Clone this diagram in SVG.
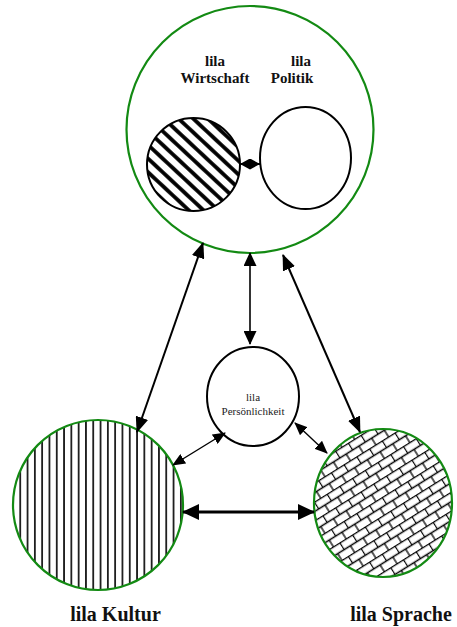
<svg xmlns="http://www.w3.org/2000/svg" width="457" height="627" viewBox="0 0 457 627">
  <style>
    .green { fill: #ffffff; stroke: #138a13; stroke-width: 2.2; }
    .black { fill: #ffffff; stroke: #000000; stroke-width: 2; }
    .lblB { font-family: "Liberation Serif", "Times New Roman", serif; font-weight: bold; fill: #111; text-anchor: middle; }
    .lblR { font-family: "Liberation Serif", "Times New Roman", serif; fill: #222; text-anchor: middle; font-size: 11px; }
    .conn { stroke: #000; fill: none; }
  </style>
  <defs>
    <pattern id="diag" patternUnits="userSpaceOnUse" width="10" height="20" patternTransform="rotate(-47)">
      <rect width="10" height="20" fill="#fff"/>
      <line x1="5" y1="0" x2="5" y2="20" stroke="#000" stroke-width="3.8"/>
    </pattern>
    <pattern id="vert" patternUnits="userSpaceOnUse" x="2" width="7.3" height="20">
      <rect width="7.3" height="20" fill="#fff"/>
      <line x1="3.65" y1="0" x2="3.65" y2="20" stroke="#000" stroke-width="1.6"/>
    </pattern>
    <pattern id="brick" patternUnits="userSpaceOnUse" width="15" height="16" patternTransform="rotate(-32)">
      <rect width="15" height="16" fill="#fff"/>
      <path d="M0,0.5 H15 M0,8.5 H15 M0.5,0.5 V8.5 M8,8.5 V16" stroke="#000" stroke-width="1.3" fill="none"/>
    </pattern>
    <marker id="ahBig" viewBox="0 0 16 13" refX="15" refY="6.5" markerWidth="16" markerHeight="13" markerUnits="userSpaceOnUse" orient="auto-start-reverse">
      <path d="M0,0 L16,6.5 L0,13 z" fill="#000"/>
    </marker>
    <marker id="ahMid" viewBox="0 0 14 13" refX="13" refY="6.5" markerWidth="14" markerHeight="13" markerUnits="userSpaceOnUse" orient="auto-start-reverse">
      <path d="M0,0 L14,6.5 L0,13 z" fill="#000"/>
    </marker>
    <marker id="ahSm" viewBox="0 0 13 11" refX="12" refY="5.5" markerWidth="13" markerHeight="11" markerUnits="userSpaceOnUse" orient="auto-start-reverse">
      <path d="M0,0 L13,5.5 L0,11 z" fill="#000"/>
    </marker>
    <marker id="ahHz" viewBox="0 0 17 16" refX="16" refY="8" markerWidth="17" markerHeight="16" markerUnits="userSpaceOnUse" orient="auto-start-reverse">
      <path d="M0,0 L17,8 L0,16 z" fill="#000"/>
    </marker>
    <marker id="ahTiny" viewBox="0 0 10 11" refX="10" refY="5.5" markerWidth="10" markerHeight="11" markerUnits="userSpaceOnUse" orient="auto-start-reverse">
      <path d="M0,0 L10,5.5 L0,11 z" fill="#000"/>
    </marker>
  </defs>

  <g id="node-top">
    <circle class="green" cx="250" cy="129.5" r="123.5"/>
  </g>
  <g id="node-wirtschaft">
    <circle cx="193.5" cy="164.5" r="46.5" fill="url(#diag)" stroke="#000" stroke-width="2"/>
    <text class="lblB" font-size="15" x="215" y="66">lila</text>
    <text class="lblB" font-size="15" x="215" y="83">Wirtschaft</text>
  </g>
  <g id="node-politik">
    <ellipse class="black" cx="305.5" cy="158" rx="45.5" ry="51"/>
    <text class="lblB" font-size="15" x="301" y="66">lila</text>
    <text class="lblB" font-size="15" x="292" y="83">Politik</text>
  </g>
  <g id="node-persoenlichkeit">
    <ellipse class="black" cx="253" cy="396.5" rx="46" ry="49.5"/>
    <text class="lblR" x="253" y="401">lila</text>
    <text class="lblR" x="253" y="415">Persönlichkeit</text>
  </g>
  <g id="node-kultur">
    <circle cx="98" cy="505" r="85" fill="url(#vert)" stroke="#138a13" stroke-width="2.2"/>
    <text class="lblB" font-size="20" x="115.5" y="620.5">lila Kultur</text>
  </g>
  <g id="node-sprache">
    <ellipse cx="383" cy="503" rx="69" ry="74" fill="url(#brick)" stroke="#138a13" stroke-width="2.2"/>
    <text class="lblB" font-size="20" x="401" y="620.5">lila Sprache</text>
  </g>

  <g id="connectors">
    <line class="conn" stroke-width="2" x1="203" y1="243" x2="137" y2="432" marker-start="url(#ahBig)" marker-end="url(#ahBig)"/>
    <line class="conn" stroke-width="1.6" x1="250" y1="253" x2="250" y2="344" marker-start="url(#ahMid)" marker-end="url(#ahMid)"/>
    <line class="conn" stroke-width="2" x1="283" y1="255" x2="360" y2="432" marker-start="url(#ahBig)" marker-end="url(#ahBig)"/>
    <line class="conn" stroke-width="1.4" x1="225" y1="433" x2="173" y2="465" marker-start="url(#ahSm)" marker-end="url(#ahSm)"/>
    <line class="conn" stroke-width="1.4" x1="295" y1="423" x2="327" y2="453" marker-start="url(#ahSm)" marker-end="url(#ahSm)"/>
    <line class="conn" stroke-width="3.2" x1="183" y1="512" x2="314" y2="512" marker-start="url(#ahHz)" marker-end="url(#ahHz)"/>
    <line class="conn" stroke-width="2" x1="240" y1="164" x2="260" y2="164" marker-start="url(#ahTiny)" marker-end="url(#ahTiny)"/>
  </g>
</svg>
